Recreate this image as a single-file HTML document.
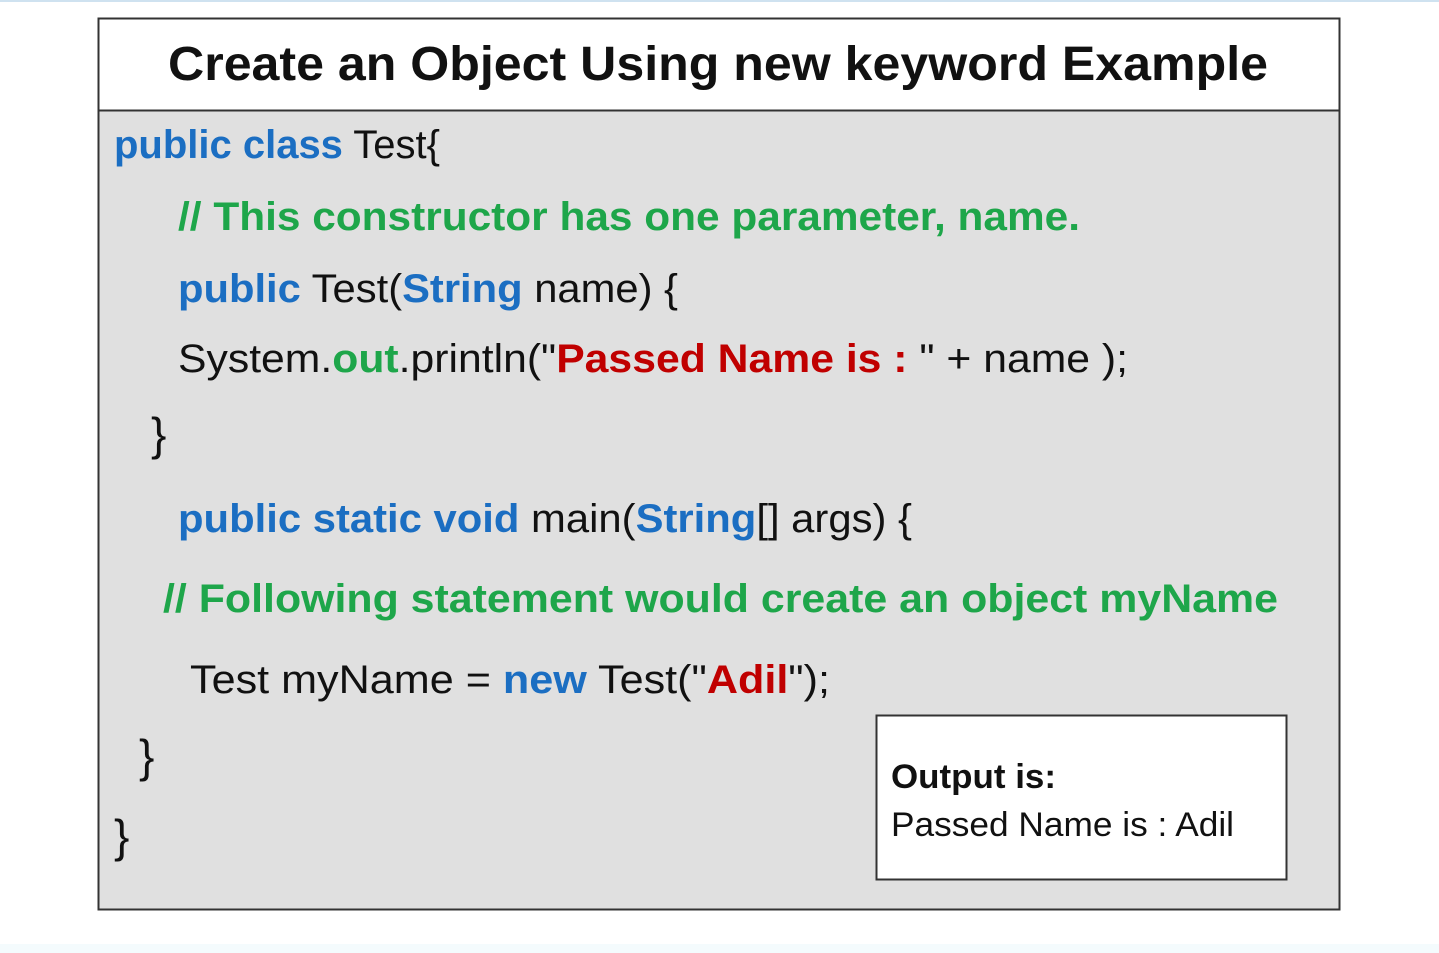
<!DOCTYPE html>
<html><head><meta charset="utf-8"><style>
html,body{margin:0;padding:0;background:#fff;}
svg{display:block}
</style></head><body>
<svg width="1439" height="953" viewBox="0 0 1439 953" xmlns="http://www.w3.org/2000/svg">
<rect x="0" y="0" width="1439" height="2" fill="#cfe2f0"/>
<rect x="0" y="944" width="1439" height="9" fill="#f4fbfd"/>
<rect x="98.5" y="18.5" width="1241" height="891" fill="#e0e0e0" stroke="#333" stroke-width="2"/>
<rect x="98.5" y="18.5" width="1241" height="92" fill="#fff" stroke="#333" stroke-width="2"/>
<g font-family="Liberation Sans, sans-serif" font-size="40" fill="#111">
<text x="168" y="80" font-size="48" font-weight="bold" textLength="1100" lengthAdjust="spacingAndGlyphs">Create an Object Using new keyword Example</text>
<text x="114" y="158" textLength="326" lengthAdjust="spacingAndGlyphs"><tspan fill="#1b6ec2" font-weight="bold">public class</tspan> Test{</text>
<text x="178" y="230" fill="#1ea64a" font-weight="bold" textLength="902" lengthAdjust="spacingAndGlyphs">// This constructor has one parameter, name.</text>
<text x="178" y="302" textLength="500" lengthAdjust="spacingAndGlyphs"><tspan fill="#1b6ec2" font-weight="bold">public</tspan> Test(<tspan fill="#1b6ec2" font-weight="bold">String</tspan> name) {</text>
<text x="178" y="372" textLength="950" lengthAdjust="spacingAndGlyphs">System.<tspan fill="#1ea64a" font-weight="bold">out</tspan>.println("<tspan fill="#c00000" font-weight="bold">Passed Name is : </tspan>" + name );</text>
<text x="151" y="450" font-size="46">}</text>
<text x="178" y="532" textLength="734" lengthAdjust="spacingAndGlyphs"><tspan fill="#1b6ec2" font-weight="bold">public static void</tspan> main(<tspan fill="#1b6ec2" font-weight="bold">String</tspan>[] args) {</text>
<text x="163" y="612" fill="#1ea64a" font-weight="bold" textLength="1115" lengthAdjust="spacingAndGlyphs">// Following statement would create an object myName</text>
<text x="190" y="693" textLength="640" lengthAdjust="spacingAndGlyphs">Test myName = <tspan fill="#1b6ec2" font-weight="bold">new</tspan> Test("<tspan fill="#c00000" font-weight="bold">Adil</tspan>");</text>
<text x="139" y="772" font-size="46">}</text>
<text x="114" y="852" font-size="46">}</text>
</g>
<rect x="876.5" y="715.5" width="410" height="164" fill="#fff" stroke="#333" stroke-width="2"/>
<g font-family="Liberation Sans, sans-serif" font-size="34" fill="#111">
<text x="891" y="788" font-weight="bold" textLength="165" lengthAdjust="spacingAndGlyphs">Output is:</text>
<text x="891" y="836" textLength="343" lengthAdjust="spacingAndGlyphs">Passed Name is : Adil</text>
</g>
</svg>
</body></html>
